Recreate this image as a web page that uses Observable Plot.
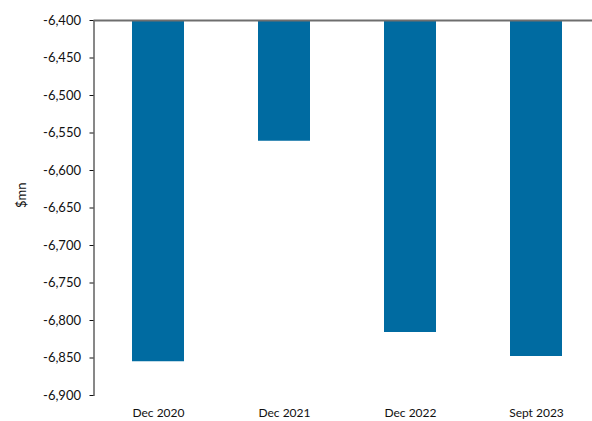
<!DOCTYPE html>
<html>
<head>
<meta charset="utf-8">
<script src="https://cdn.jsdelivr.net/npm/d3@7"></script>
<script src="https://cdn.jsdelivr.net/npm/@observablehq/plot@0.6"></script>
<style>
  html, body { margin: 0; padding: 0; background: #fff; }
  #chart svg { display: block; }
</style>
</head>
<body>
<div id="chart"></div>
<script>
const categories = ["Dec 2020", "Dec 2021", "Dec 2022", "Sept 2023"];
const values = [-6855, -6561, -6816, -6848];
const yTicks = [-6400, -6450, -6500, -6550, -6600, -6650, -6700, -6750, -6800, -6850, -6900];
const baseline = -6400;

const data = categories.map((c, i) => ({category: c, value: values[i]}));
const fmt = d => d.toLocaleString("en-US");

const chart = Plot.plot({
  width: 592,
  height: 421,
  marginTop: 20,
  marginBottom: 26,
  marginLeft: 93.5,
  marginRight: 0,
  style: {fontFamily: "Lato, 'Open Sans', sans-serif", fontSize: "12px", color: "#111", background: "#fff"},
  x: {domain: categories, paddingInner: 0.59, paddingOuter: 0.26, align: 0.563, label: null},
  y: {domain: [-6900, -6400], label: null},
  marks: [
    Plot.barY(data, {x: "category", y1: baseline, y2: "value", fill: "#006BA1"}),
    Plot.axisX({tickSize: 0, tickPadding: 13, fontSize: 12, label: null}),
    Plot.axisY({ticks: yTicks, tickFormat: fmt, tickSize: 4, tickPadding: 9, fontSize: 13, label: null, stroke: "#111"}),
    Plot.frame({anchor: "left", stroke: "#111"}),
    Plot.ruleY([baseline], {stroke: "#6e6e6e", strokeWidth: 2}),
    Plot.text(["$mn"], {frameAnchor: "left", dx: -72, rotate: -90, fontSize: 13, fill: "#111"})
  ]
});
document.getElementById("chart").appendChild(chart);
</script>
</body>
</html>
